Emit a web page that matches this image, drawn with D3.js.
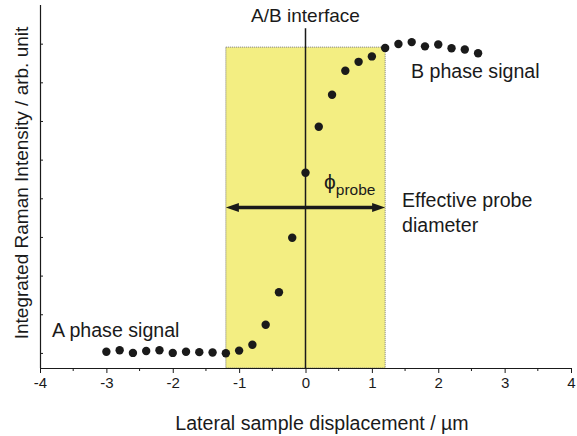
<!DOCTYPE html>
<html>
<head>
<meta charset="utf-8">
<script src="https://cdn.jsdelivr.net/npm/d3@7"></script>
<style>
  html, body { margin: 0; padding: 0; background: #fff; }
  svg { display: block; font-family: "Liberation Sans", Arial, sans-serif; }
</style>
</head>
<body>
<svg id="chart" width="577" height="436"></svg>
<script>
// Lateral line scan across an A/B interface
const displacement = [-3.0, -2.8, -2.6, -2.4, -2.2, -2.0, -1.8, -1.6, -1.4, -1.2, -1.0, -0.8,
  -0.6, -0.4, -0.2, 0.0, 0.2, 0.4, 0.6, 0.8, 1.0, 1.2, 1.4, 1.6, 1.8, 2.0, 2.2, 2.4, 2.6];
const intensity = [0.03, 0.07, 0.0, 0.05, 0.07, 0.0, 0.03, 0.02, 0.01, -0.01, 0.06, 0.21,
  0.73, 1.57, 2.98, 4.66, 5.85, 6.68, 7.30, 7.53, 7.67, 7.89, 7.99, 8.04, 7.93, 7.98, 7.88, 7.85, 7.75];

const xTicks = [-4, -3, -2, -1, 0, 1, 2, 3, 4];
const xMinorTicks = [-3.5, -2.5, -1.5, -0.5, 0.5, 1.5, 2.5, 3.5];
const yTicks = [0, 1, 2, 3, 4, 5, 6, 7, 8];

// probe footprint and annotations
const probeRange = [-1.2, 1.2];
const probeTop = 7.91;
const arrowLevel = 3.76;
const interfaceX = 0;
const interfaceTop = 8.4;

const svg = d3.select("#chart");
const plotLeft = 40, plotRight = 571, plotTop = 5, plotBottom = 368;

const x = d3.scaleLinear().domain([-4, 4]).range([plotLeft, plotRight]);
const y = d3.scaleLinear().domain([-0.39, 9.0]).range([plotBottom, plotTop]);

const ink = "#1a1a1a";
const labelSize = 19.6;

// probe region
svg.append("rect")
  .attr("x", x(probeRange[0]))
  .attr("y", y(probeTop))
  .attr("width", x(probeRange[1]) - x(probeRange[0]))
  .attr("height", plotBottom - y(probeTop))
  .attr("fill", "#f3ee82")
  .attr("stroke", "#777")
  .attr("stroke-width", 1)
  .attr("stroke-dasharray", "1,1");

// interface line
svg.append("line")
  .attr("x1", x(interfaceX)).attr("x2", x(interfaceX))
  .attr("y1", y(interfaceTop)).attr("y2", plotBottom)
  .attr("stroke", ink).attr("stroke-width", 1.5);

// axes
const xAxis = d3.axisBottom(x).tickValues(xTicks).tickSize(5).tickPadding(4)
  .tickFormat(d => d3.format("d")(d).replace("\u2212", "-"));
const gx = svg.append("g").attr("transform", `translate(0,${plotBottom})`).call(xAxis);
gx.select(".domain").attr("stroke", ink).attr("stroke-width", 1.2).attr("d", `M${plotLeft},0.5H${plotRight}`);
gx.selectAll(".tick line").attr("stroke", ink).attr("stroke-width", 1);
gx.selectAll(".tick text").attr("fill", ink).attr("font-size", 15)
  .attr("font-family", "Liberation Sans, Arial, sans-serif");

svg.append("g").selectAll("line").data(xMinorTicks).join("line")
  .attr("x1", d => x(d)).attr("x2", d => x(d))
  .attr("y1", plotBottom).attr("y2", plotBottom + 3)
  .attr("stroke", ink).attr("stroke-width", 1);

const yAxis = d3.axisRight(y).tickValues(yTicks).tickSize(3).tickFormat("");
const gy = svg.append("g").attr("transform", `translate(${plotLeft},0)`).call(yAxis);
gy.select(".domain").attr("stroke", ink).attr("stroke-width", 1.2).attr("d", `M0.5,${plotTop}V${plotBottom}`);
gy.selectAll(".tick line").attr("stroke", ink).attr("stroke-width", 1);

// data points
svg.append("g").selectAll("circle")
  .data(displacement.map((d, i) => [d, intensity[i]]))
  .join("circle")
  .attr("cx", d => x(d[0]))
  .attr("cy", d => y(d[1]))
  .attr("r", 4.2)
  .attr("fill", ink);

// double-headed arrow for the probe diameter
const ay = y(arrowLevel);
const x0 = x(probeRange[0]), x1 = x(probeRange[1]);
const headL = 13, headW = 4.5;
svg.append("line")
  .attr("x1", x0 + headL - 2).attr("x2", x1 - headL + 2)
  .attr("y1", ay).attr("y2", ay)
  .attr("stroke", ink).attr("stroke-width", 3.5);
svg.append("path")
  .attr("d", `M${x0},${ay}L${x0 + headL},${ay - headW}L${x0 + headL},${ay + headW}Z`)
  .attr("fill", ink);
svg.append("path")
  .attr("d", `M${x1},${ay}L${x1 - headL},${ay - headW}L${x1 - headL},${ay + headW}Z`)
  .attr("fill", ink);

// labels
const label = (tx, ty, s, size, anchor) => svg.append("text")
  .attr("x", tx).attr("y", ty).attr("font-size", size)
  .attr("text-anchor", anchor || "start").attr("fill", ink).text(s);

label(x(interfaceX), 22, "A/B interface", 19, "middle");
label(411, 78, "B phase signal", labelSize);
label(52, 337, "A phase signal", labelSize);
label(402, 207, "Effective probe", labelSize);
label(402, 232, "diameter", labelSize);

const phi = svg.append("text").attr("x", 324).attr("y", 189).attr("fill", ink);
phi.append("tspan").attr("font-size", 21).text("\u03d5");
phi.append("tspan").attr("font-size", 15.5).attr("dy", 6).text("probe");

// axis titles
svg.append("text")
  .attr("x", 322).attr("y", 430)
  .attr("text-anchor", "middle").attr("font-size", labelSize).attr("fill", ink)
  .text("Lateral sample displacement / \u00b5m");

svg.append("text")
  .attr("transform", `translate(28,183) rotate(-90)`)
  .attr("text-anchor", "middle").attr("font-size", 19).attr("fill", ink)
  .text("Integrated Raman Intensity / arb. unit");
</script>
</body>
</html>
